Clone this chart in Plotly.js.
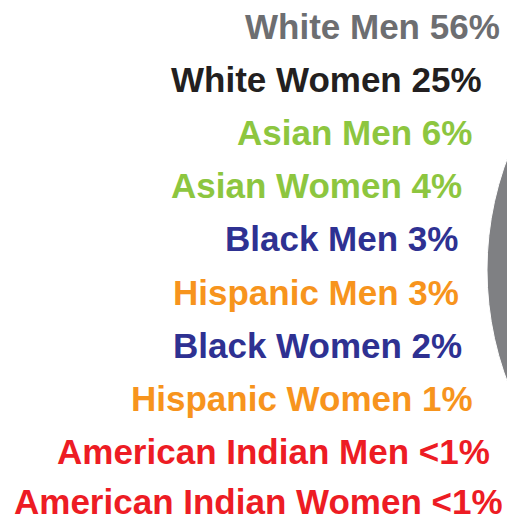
<!DOCTYPE html>
<html>
<head>
<meta charset="utf-8">
<script src="https://cdn.plot.ly/plotly-3.0.1.min.js"></script>
<style>
  html, body { margin: 0; padding: 0; background: #ffffff; overflow: hidden; width: 507px; height: 521px; }
  #chart { position: absolute; left: 0; top: -100px; width: 1200px; height: 800px; }
</style>
</head>
<body>
<div id="chart"></div>
<script>
// ---- data ----
const categories = ['White Men', 'White Women', 'Asian Men', 'Asian Women', 'Black Men',
                    'Hispanic Men', 'Black Women', 'Hispanic Women', 'American Indian Men', 'American Indian Women'];
const percentLabels = ['56%', '25%', '6%', '4%', '3%', '3%', '2%', '1%', '<1%', '<1%'];
const shares = [56, 25, 6, 4, 3, 3, 2, 1, 0.5, 0.5];

// ---- styles / layout ----
const textColors = ['#6d6e71', '#231f20', '#8dc63f', '#8dc63f', '#2e3192',
                    '#f7941d', '#2e3192', '#f7941d', '#ed1c24', '#ed1c24'];
const sliceColors = ['#7f8083', '#231f20', '#8dc63f', '#8dc63f', '#2e3192',
                     '#f7941d', '#2e3192', '#f7941d', '#ed1c24', '#ed1c24'];
// label right edges and cap-centre heights in window pixels
const labelRight = [502, 484, 473.5, 464, 460, 460.5, 464, 475, 491.5, 504.5];
const labelMidY = [26.5, 79.6, 132.7, 185.8, 238.9, 292, 345.1, 398.2, 451.3, 501.5];

const W = 1200, H = 800, TOP = 100;
const pieCx = 805, pieCy = 270, pieR = 318;

const toPaperX = px => px / W;
const toPaperY = py => (H - (py + TOP)) / H;

const escapeText = s => s.replace(/&/g, '&amp;').replace(/</g, '&lt;').replace(/>/g, '&gt;');

const annotations = categories.map((c, i) => ({
  xref: 'paper', yref: 'paper',
  x: toPaperX(labelRight[i]), y: toPaperY(labelMidY[i]),
  xanchor: 'right', yanchor: 'middle',
  showarrow: false,
  text: '<b>' + escapeText(c + ' ' + percentLabels[i]) + '</b>',
  font: { family: 'Liberation Sans, Arial, sans-serif', size: 35, color: textColors[i] }
}));

// first slice (White Men) centred on the left side of the pie
const firstAngle = 360 * shares[0] / shares.reduce((a, b) => a + b, 0);
const trace = {
  type: 'pie',
  labels: categories,
  values: shares,
  sort: false,
  direction: 'counterclockwise',
  rotation: 270 - firstAngle / 2,
  marker: { colors: sliceColors, line: { color: '#ffffff', width: 1 } },
  textinfo: 'none',
  hoverinfo: 'skip',
  showlegend: false,
  domain: {
    x: [(pieCx - pieR) / W, (pieCx + pieR) / W],
    y: [toPaperY(pieCy + pieR), toPaperY(pieCy - pieR)]
  }
};

const layout = {
  width: W, height: H,
  margin: { l: 0, r: 0, t: 0, b: 0 },
  paper_bgcolor: '#ffffff',
  plot_bgcolor: '#ffffff',
  showlegend: false,
  annotations: annotations
};

Plotly.newPlot('chart', [trace], layout, { staticPlot: true, displayModeBar: false });
</script>
</body>
</html>
